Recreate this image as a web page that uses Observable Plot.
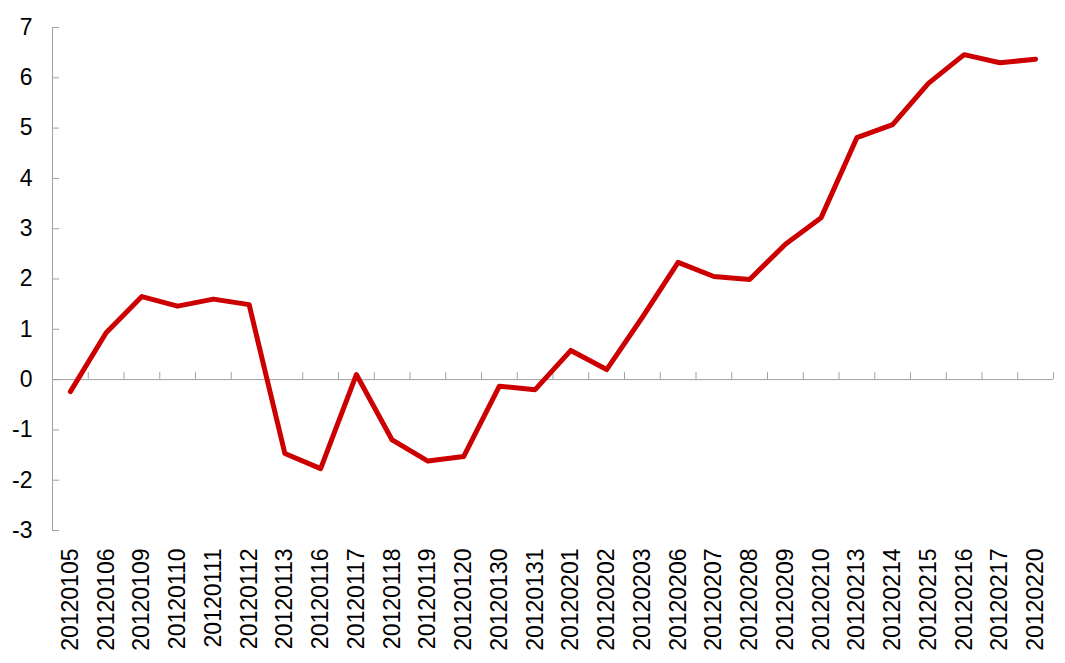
<!DOCTYPE html>
<html><head><meta charset="utf-8">
<script src="https://cdn.jsdelivr.net/npm/d3@7"></script>
<script src="https://cdn.jsdelivr.net/npm/@observablehq/plot@0.6"></script>
<style>body{margin:0;background:#fff}</style>
</head><body><div id="chart"></div>
<script>
const dates = ["20120105","20120106","20120109","20120110","20120111","20120112","20120113","20120116","20120117","20120118","20120119","20120120","20120130","20120131","20120201","20120202","20120203","20120206","20120207","20120208","20120209","20120210","20120213","20120214","20120215","20120216","20120217","20120220"];
const values = [-0.24,0.93,1.65,1.46,1.60,1.49,-1.47,-1.77,0.10,-1.20,-1.62,-1.53,-0.13,-0.20,0.58,0.20,1.24,2.33,2.05,1.99,2.69,3.22,4.81,5.07,5.89,6.46,6.30,6.37];
const yTicks = [-3,-2,-1,0,1,2,3,4,5,6,7];

const data = dates.map((d, i) => ({i, date: d, value: values[i]}));
const idx = d3.range(dates.length);
const boundaries = idx.map(i => i + 0.5);
const axisColor = "#a0a0a0";

const chart = Plot.plot({
  width: 1065, height: 663,
  marginLeft: 52, marginRight: 12, marginTop: 27, marginBottom: 133,
  style: {fontFamily: "'Liberation Sans', Arial, sans-serif", fontSize: "23px", color: "#000", background: "#fff"},
  x: {type: "linear", domain: [-0.5, dates.length - 0.5]},
  y: {domain: [-3, 7]},
  marks: [
    Plot.axisY({ticks: yTicks, tickSize: 0, tickPadding: 20, tickFormat: d => String(d), label: null}),
    Plot.axisX({ticks: idx, tickFormat: i => dates[i], tickRotate: -90, tickSize: 0, tickPadding: 18, label: null}),
    Plot.ruleX([-0.5], {stroke: axisColor, strokeWidth: 1}),
    Plot.ruleY(yTicks, {x1: -0.5, x2: -0.3, stroke: axisColor}),
    Plot.ruleY([0], {stroke: axisColor}),
    Plot.ruleX(boundaries, {y1: 0, y2: 0.14, stroke: axisColor}),
    Plot.line(data, {x: "i", y: "value", stroke: "#cc0000", strokeWidth: 5, strokeLinejoin: "round", strokeLinecap: "round"})
  ]
});
document.getElementById("chart").append(chart);
</script>
</body></html>
